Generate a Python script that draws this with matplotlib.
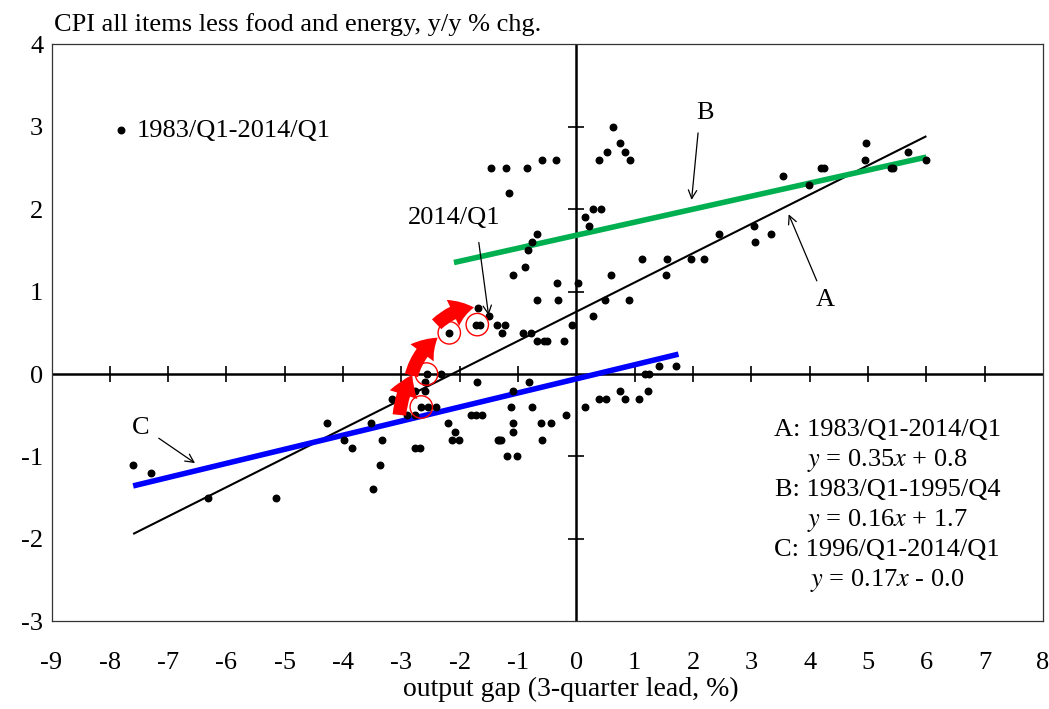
import numpy as np
import matplotlib
matplotlib.use("Agg")
from matplotlib import pyplot as plt
from matplotlib.patches import FancyArrowPatch

plt.rcParams['font.family'] = ['Liberation Serif', 'DejaVu Serif']
plt.rcParams['mathtext.fontset'] = 'stix'
plt.rcParams['axes.unicode_minus'] = False

# output gap (3-quarter lead, %) and core CPI y/y, 1983/Q1-2014/Q1
gap = [-7.61, -7.30, -6.31, -5.15, -4.27, -3.53, -3.99, -3.84, -3.34, -3.36,
       -3.49, -2.77, -2.69, -3.17, -2.91, -2.76, -2.66, -2.55, -2.41, -2.77,
       -2.59, -2.59, -2.57, -2.33, -2.20, -2.09, -2.14, -2.01, -1.71, -1.81,
       -1.73, -1.62, -1.35, -0.82, -1.08, -1.13, -0.77, -1.09, -1.08, -1.33,
       -1.29, -1.19, -1.02, -0.61, -0.43, -0.59, -0.18, 0.15, 0.38, 0.51,
       0.74, 0.83, 1.08, 1.22, 1.17, 1.24, 1.41, 1.71,
       -0.33, 0.02, -0.68, -0.31, 0.49, 0.90, 0.28, -1.50, -1.73, -1.66,
       -1.36, -1.23, -1.28, -0.91, -0.78, -0.07, -0.68, -0.55, -0.51, -0.22,
       -1.68, -2.18, -1.47, -1.20, -0.85, -0.59, -0.35, -1.15, 0.38, 0.53,
       0.75, 0.83, 0.92, 0.63, 0.29, 0.42, 0.14, 0.22, -0.67, -0.77,
       -0.83, -0.89, -1.09, 0.59, 1.13, 1.56, 1.97, 2.18, 1.54, 2.44,
       3.05, 3.06, 3.34, 3.54, 3.98, 4.20, 4.25, 4.95, 4.96, 5.39,
       5.43, 5.68, 5.99]
cpi = [-1.1, -1.2, -1.5, -1.5, -0.6, -0.6, -0.8, -0.9, -0.8, -1.1,
       -1.4, -0.9, -0.9, -0.3, -0.5, -0.5, -0.4, -0.4, -0.4, -0.2,
       -0.2, -0.1, 0.0, 0.0, -0.6, -0.7, -0.8, -0.8, -0.1, -0.5,
       -0.5, -0.5, -0.8, -0.1, -0.2, -0.4, -0.4, -0.6, -0.7, -0.8,
       -0.8, -1.0, -1.0, -0.6, -0.6, -0.8, -0.5, -0.4, -0.3, -0.3,
       -0.2, -0.3, -0.3, -0.2, 0.0, 0.0, 0.1, 0.1,
       1.1, 1.1, 0.9, 0.9, 0.9, 0.9, 0.7, 0.7, 0.6, 0.6,
       0.6, 0.6, 0.5, 0.5, 0.5, 0.6, 0.4, 0.4, 0.4, 0.4,
       0.8, 0.5, 2.5, 2.5, 2.5, 2.6, 2.6, 2.2, 2.6, 2.7,
       2.8, 2.7, 2.6, 3.0, 2.0, 2.0, 1.9, 1.8, 1.7, 1.6,
       1.5, 1.3, 1.2, 1.2, 1.4, 1.4, 1.4, 1.4, 1.2, 1.7,
       1.8, 1.6, 1.7, 2.4, 2.3, 2.5, 2.5, 2.6, 2.8, 2.5,
       2.5, 2.7, 2.6]

# recent quarters (circled)
recent_gap = [-2.66, -2.57, -2.18, -1.70]
recent_cpi = [-0.4, 0.0, 0.5, 0.6]

# regression lines: slope, intercept, x range
fits = {
    'A': (0.355, 0.757, -7.6, 6.0, 'black', 1.5),
    'B': (0.158, 1.685, -2.1, 6.0, '#00b050', 4),
    'C': (0.171, -0.058, -7.6, 1.75, '#0000ff', 4),
}
fit_text = [
    "A: 1983/Q1-2014/Q1", r"$y$ = 0.35$x$ + 0.8",
    "B: 1983/Q1-1995/Q4", r"$y$ = 0.16$x$ + 1.7",
    "C: 1996/Q1-2014/Q1", r"$y$ = 0.17$x$ - 0.0",
]

xticks = list(range(-9, 9))
yticks = list(range(-3, 5))

fig = plt.figure(figsize=(10.49, 7.09), dpi=100)
ax = fig.add_axes([0.0491, 0.1238, 0.9452, 0.8135])
ax.set_xlim(-9, 8)
ax.set_ylim(-3, 4)

for k, (m, b, x0, x1, c, lw) in fits.items():
    xx = np.array([x0, x1])
    ax.plot(xx, m * xx + b, color=c, lw=lw, solid_capstyle='butt', zorder=3)

ax.axhline(0, color='black', lw=1.8, zorder=2)
ax.axvline(0, color='black', lw=1.8, zorder=2)
xcross = [t for t in xticks if t not in (0, -9, 8)]
ycross = [t for t in yticks if t not in (0, -3, 4)]
ax.plot(xcross, [0] * len(xcross), ls='none',
        marker='|', ms=11, mew=1.2, color='black', zorder=2)
ax.plot([0] * len(ycross), ycross, ls='none',
        marker='_', ms=11, mew=1.2, color='black', zorder=2)

ax.scatter(gap, cpi, s=22, color='black', zorder=4, label="1983/Q1-2014/Q1")
ax.scatter(recent_gap, recent_cpi, s=260, facecolors='none',
           edgecolors='red', lw=1, zorder=5)

# red arrows showing recent path
red_path = [((-3.04, -0.53), (-2.79, 0.02), -0.12),
            ((-2.84, -0.05), (-2.34, 0.46), -0.2),
            ((-2.43, 0.58), (-1.71, 0.81), -0.2)]
for p0, p1, rad in red_path:
    ax.add_patch(FancyArrowPatch(p0, p1, connectionstyle='arc3,rad=%s' % rad,
                 arrowstyle='simple,head_width=1.6,head_length=1.2,tail_width=0.75',
                 mutation_scale=13, color='red', lw=0, zorder=6))

# labels with arrows
notes = [("2014/Q1", (-1.50, 0.68), (-2.10, 1.89), (-1.68, 1.63)),
         ("B", (1.97, 2.08), (2.21, 3.17), (2.09, 2.96)),
         ("A", (3.62, 1.97), (4.26, 0.90), (4.14, 1.10)),
         ("C", (-6.50, -1.10), (-7.47, -0.66), (-7.20, -0.76))]
for txt, head, pos, tail in notes:
    ax.text(pos[0], pos[1], txt, fontsize=19, ha='center', va='center')
    ax.annotate("", xy=head, xytext=tail,
                arrowprops=dict(arrowstyle='->', lw=0.9, color='black',
                                mutation_scale=15))

for i, t in enumerate(fit_text):
    ax.text(5.33, -0.68 - i * 0.365, t, fontsize=19, ha='center', va='center')

ax.legend(loc='center left', bbox_to_anchor=(0.062, 0.852), frameon=False,
          fontsize=19, handlelength=0.6, handletextpad=0.3, borderpad=0,
          borderaxespad=0, markerscale=1)

ax.set_xticks(xticks)
ax.set_yticks(yticks)
ax.tick_params(length=0, labelsize=19)
ax.tick_params(axis='x', pad=22)
ax.tick_params(axis='y', pad=6)
for s in ax.spines.values():
    s.set_linewidth(0.9)
    s.set_color('#333333')

ax.set_xlabel("output gap (3-quarter lead, %)", fontsize=20, va='center')
ax.xaxis.set_label_coords(0.524, -0.119)
fig.text(54 / 1049, 1 - 25 / 709, "CPI all items less food and energy, y/y % chg.",
         fontsize=19, ha='left', va='center')

fig.savefig("out.png", dpi=100)
